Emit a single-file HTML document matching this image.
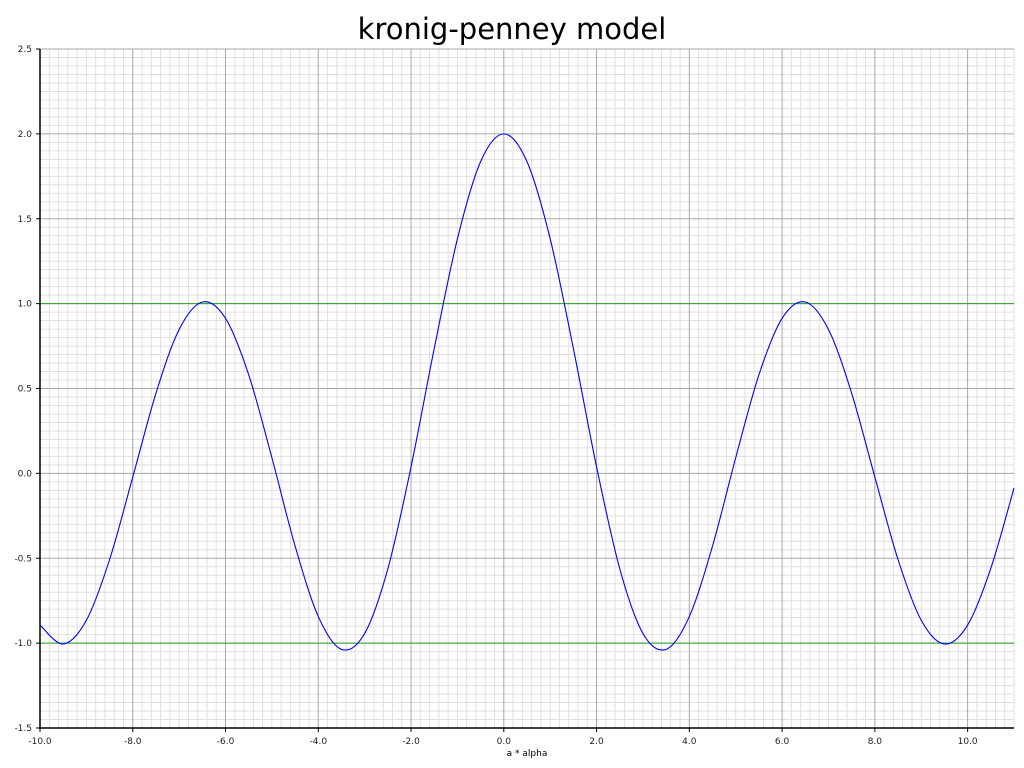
<!DOCTYPE html>
<html><head><meta charset="utf-8"><style>
html,body{margin:0;padding:0;background:#fff;}
svg{display:block;font-family:"DejaVu Sans","Liberation Sans",sans-serif;}
</style></head><body>
<svg id="chart" width="1024" height="768">
<text x="512" y="39" text-anchor="middle" font-size="29" fill="#000">kronig-penney model</text>
<g id="grid"></g><g id="marks"></g><g id="axes"></g>
<text x="527" y="756" text-anchor="middle" font-size="9" fill="#000">a * alpha</text>
</svg>
<script>
const xValues=[-10,-9.5,-9,-8.5,-8,-7.5,-7,-6.5,-6,-5.5,-5,-4.5,-4,-3.5,-3,-2.5,-2,-1.5,-1,-0.5,0,0.5,1,1.5,2,2.5,3,3.5,4,4.5,5,5.5,6,6.5,7,7.5,8,8.5,9,9.5,10,10.5,11];
const yValues=[-0.8935,-1.0051,-0.8653,-0.5081,-0.0218,0.4717,0.8478,1.0097,0.9136,0.5804,0.0919,-0.4280,-0.8428,-1.0367,-0.9430,-0.5617,0.0385,0.7357,1.3818,1.8365,2,1.8365,1.3818,0.7357,0.0385,-0.5617,-0.9430,-1.0367,-0.8428,-0.4280,0.0919,0.5804,0.9136,1.0097,0.8478,0.4717,-0.0218,-0.5081,-0.8653,-1.0051,-0.8935,-0.5593,-0.0865];
const xTicks=[-10,-8,-6,-4,-2,0,2,4,6,8,10];
const yTicks=[-1.5,-1,-0.5,0,0.5,1,1.5,2,2.5];
const refLines=[1,-1];
const xMin=-10,xMax=11,yMin=-1.5,yMax=2.5;
const L=40,R=1014,T=49,B=728;
const sx=v=>L+(v-xMin)/(xMax-xMin)*(R-L);
const sy=v=>B-(v-yMin)/(yMax-yMin)*(B-T);
const NS="http://www.w3.org/2000/svg";
function mk(tag,attrs,parent){const e=document.createElementNS(NS,tag);for(const k in attrs)e.setAttribute(k,attrs[k]);parent.appendChild(e);return e;}
const grid=document.getElementById('grid'),marks=document.getElementById('marks'),axes=document.getElementById('axes');
for(let i=0;i<=105;i++){const v=xMin+i*0.2;if(i%10===0)continue;const x=sx(v);
 const l=mk('line',{x1:x,x2:x,y1:T,y2:B,stroke:'#e0e0e0','stroke-width':1},grid);
 
 }
for(let i=0;i<=80;i++){const v=yMin+i*0.05;if(i%10===0)continue;const y=sy(v);
 const l=mk('line',{x1:L,x2:R,y1:y,y2:y,stroke:'#e0e0e0','stroke-width':1},grid);
 
 }
xTicks.forEach(v=>{const x=sx(v);
 const l=mk('line',{x1:x,x2:x,y1:T,y2:B,stroke:'#a8a8a8','stroke-width':1},grid);
 
 
 mk('line',{x1:x,x2:x,y1:B,y2:B+4,stroke:'#000'},axes);
 const t=mk('text',{x:x,y:B+16,'text-anchor':'middle','font-size':9,fill:'#222'},axes);t.textContent=v.toFixed(1);
 
 });
yTicks.forEach(v=>{const y=sy(v);
 const l=mk('line',{x1:L,x2:R,y1:y,y2:y,stroke:'#a8a8a8','stroke-width':1},grid);
 
 
 mk('line',{x1:L-4,x2:L,y1:y,y2:y,stroke:'#000'},axes);
 const t=mk('text',{x:L-8,y:y+3,'text-anchor':'end','font-size':9,fill:'#222'},axes);t.textContent=v.toFixed(1);
 
 });
refLines.forEach(v=>{const y=sy(v);
 const l=mk('line',{x1:L,x2:R,y1:y,y2:y,stroke:'#22aa22','stroke-width':1},marks);
 
 });
const P=xValues.map((x,i)=>[sx(x),sy(yValues[i])]);
let d='M'+P[0][0]+','+P[0][1];
for(let i=0;i<P.length-1;i++){const p0=P[i-1]||P[i],p1=P[i],p2=P[i+1],p3=P[i+2]||P[i+1];
 d+=' C'+(p1[0]+(p2[0]-p0[0])/6)+','+(p1[1]+(p2[1]-p0[1])/6)+' '+(p2[0]-(p3[0]-p1[0])/6)+','+(p2[1]-(p3[1]-p1[1])/6)+' '+p2[0]+','+p2[1];}
const c=mk('path',{d:d,fill:'none',stroke:'#0000ff','stroke-width':1.1},marks);


mk('line',{x1:L,x2:L,y1:T,y2:B+1,stroke:'#000','stroke-width':1.5},axes);
mk('line',{x1:L-1,x2:R,y1:B,y2:B,stroke:'#000','stroke-width':1.5},axes);
</script>
</body></html>
